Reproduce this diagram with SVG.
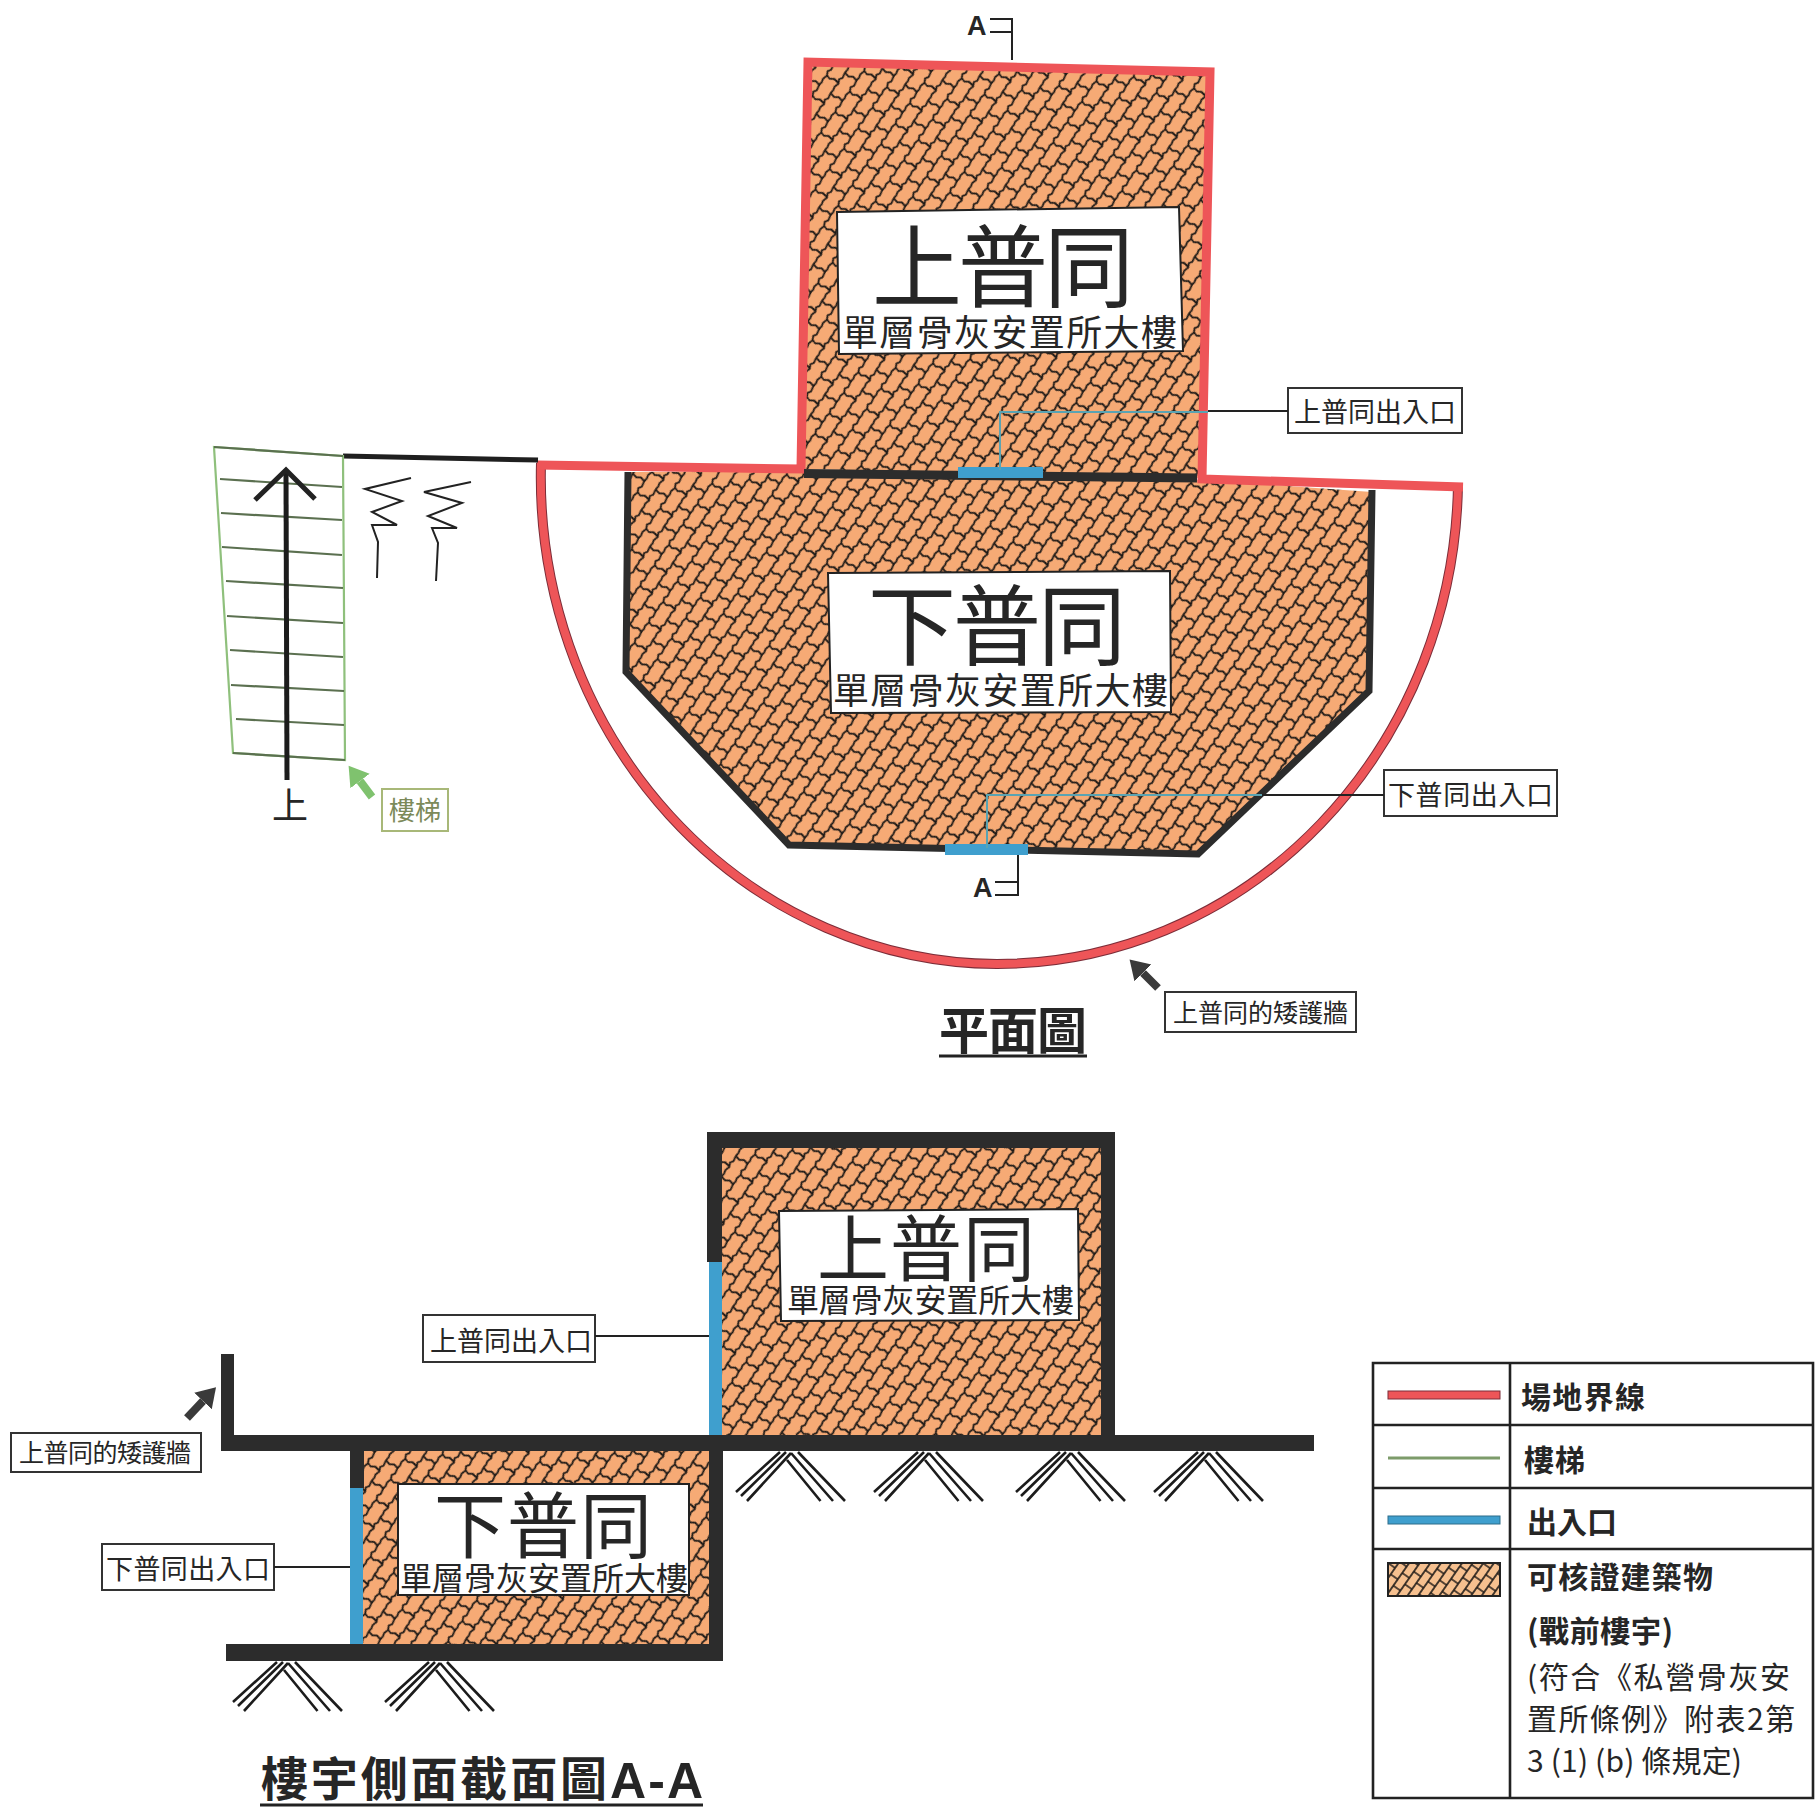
<svg xmlns="http://www.w3.org/2000/svg" xmlns:xlink="http://www.w3.org/1999/xlink" width="1815" height="1809" viewBox="0 0 1815 1809">
<style>
text{font-family:"Noto Sans CJK TC","Noto Sans CJK SC",sans-serif;fill:#262626}
.lat{font-family:"Liberation Sans",sans-serif;font-weight:700}
.b{font-weight:700}
.box{fill:#fff;stroke:#333;stroke-width:2}
.lab{fill:#fff;stroke:#222;stroke-width:2}
.dark{fill:#2c2c2c}
.blue{fill:#3f9fce}
.thin{fill:none;stroke:#222;stroke-width:2}
.teal{fill:none;stroke:#5aa3b2;stroke-width:2}
.red{fill:none;stroke:#ee5558;stroke-width:9;stroke-linejoin:miter}
.wall{fill:none;stroke:#2c2c2c;stroke-width:7;stroke-linejoin:miter}
.rung{stroke:#5b7050;stroke-width:2.2;fill:none}
.stair{stroke:#8fc07c;stroke-width:2.2;fill:none}
.sig{fill:none;stroke:#222;stroke-width:2}
.ch{fill:none;stroke:#1c1c1c;stroke-width:2.6}
.ar{stroke:#3a3a3a;stroke-width:8;fill:none}
.ag{stroke:#7fc26e;stroke-width:8;fill:none}
.grid{stroke:#222;stroke-width:2.6;fill:none}
</style>
<defs>
<pattern id="hatch" width="28" height="25" patternUnits="userSpaceOnUse" patternTransform="translate(5 3) rotate(35)">
<rect x="0" y="0" width="28" height="25" fill="#f6aa75"/>
<path fill="none" stroke="#1d1916" stroke-width="1.8" d="M0 0L1 6L-1 9L1 13L-.5 18L.5 21L0 25M14 0L15 6L13 9L15 13L13.500 18L14.500 21L14 25M28 0L29 6L27 9L29 13L27.500 18L28.500 21L28 25M0 0L5 1.500L9-1L14 0M0 25L5 26.500L9 24L14 25M14 12.500L19 14L23 11.500L28 12.500"/>
</pattern>
<pattern id="hatchS" width="28" height="25" patternUnits="userSpaceOnUse" patternTransform="translate(1388 1563) scale(.62) rotate(35)">
<rect x="0" y="0" width="28" height="25" fill="#f6c08f"/>
<path fill="none" stroke="#1d1916" stroke-width="2.6" d="M0 0V25M14 0V25M28 0V25M0 0H14M0 25H14M14 12.500H28"/>
</pattern>
<marker id="hd" markerUnits="userSpaceOnUse" markerWidth="24" markerHeight="26" refX="0" refY="13" orient="auto"><path d="M0 1L19 13L0 25Z" fill="#3a3a3a"/></marker>
<marker id="hg" markerUnits="userSpaceOnUse" markerWidth="24" markerHeight="26" refX="0" refY="13" orient="auto"><path d="M0 1L19 13L0 25Z" fill="#7fc26e"/></marker>
<g id="chev" class="ch"><path d="M277 1662L233 1702M283 1662L238 1706M288 1663L244 1711M295 1662L342 1711M288 1663L330 1711M284 1670L317.5 1711"/></g>
</defs>
<rect width="1815" height="1809" fill="#fff"/>

<g id="plan-upper-building">
<path d="M808 62L1210 72L1202 478L801 469Z" fill="url(#hatch)"/>
</g>
<g id="plan-lower-building">
<path d="M628 472L626 672L789 845L1198 854L1369 691L1372 492L1202 480L801 471Z" fill="url(#hatch)"/>
<path class="wall" d="M628 472L626 672L789 845L1198 854L1369 691L1372 490"/>
</g>
<g id="plan-boundary">
<path d="M1458 484A461 487 0 0 1 997 964A459 487 0 0 1 541 463" fill="none" stroke="#7c2d38" stroke-width="10"/>
<path d="M1458 484A461 487 0 0 1 997 964A459 487 0 0 1 541 463" fill="none" stroke="#ee5558" stroke-width="8"/>
<path class="red" d="M537 465L801 469L808 62L1210 72L1202 479L1463 487"/>
<path d="M804 473.500L1197 478" stroke="#2c2c2c" stroke-width="9" fill="none"/>
<path d="M343 456L538 460" stroke="#1f1f1f" stroke-width="5" fill="none"/>
</g>
<g id="plan-entrances">
<rect class="blue" x="958" y="467" width="85" height="11"/>
<rect class="blue" x="945" y="844" width="83" height="11"/>
</g>
<g id="plan-upper-label">
<path class="lab" d="M837 212L1179 207L1183 351L839 354Z"/>
<text x="872" y="300" font-size="90" textLength="262">上普同</text>
<text x="842" y="346" font-size="36" textLength="335">單層骨灰安置所大樓</text>
</g>
<g id="plan-lower-label">
<path class="lab" d="M828 573L1170 571L1171 712L831 713Z"/>
<text x="868" y="658" font-size="88" textLength="258">下普同</text>
<text x="833" y="704" font-size="36" textLength="335">單層骨灰安置所大樓</text>
</g>

<g id="stairs">
<path class="stair" d="M214 447L343 456L345 760L233 753Z"/>
<path class="rung" d="M214 447L343 456M220 479L342 487M221 513L342 520M222 547L342 555M226 581L343 588M227 616L343 623M230 650L343 657M231 685L344 691M236 719L344 725M233 753L345 760"/>
<path d="M286 472L287 780" stroke="#1c1c1c" stroke-width="5" fill="none"/>
<path d="M255 500L286 470L315 499" stroke="#222" stroke-width="5" fill="none"/>
<text x="272" y="819" font-size="36">上</text>
</g>
<g id="break-lines">
<path class="sig" d="M411 478L365 489L402 501L372 512L397 525L372 525L378 542L377 578"/>
<path class="sig" d="M471 482L424 492L462 503L428 516L457 528L432 528L438 543L436 581"/>
</g>
<g id="stairs-label">
<rect x="382" y="789" width="66" height="42" fill="#fff" stroke="#a8b878" stroke-width="2"/>
<text x="389" y="820" font-size="26" textLength="52" style="fill:#7c8a5a">樓梯</text>
</g>

<g id="plan-upper-entrance-label">
<rect class="box" x="1288" y="388" width="174" height="45"/>
<text x="1294" y="422" font-size="27" textLength="162">上普同出入口</text>
</g>
<g id="plan-lower-entrance-label">
<rect class="box" x="1384" y="770" width="173" height="46"/>
<text x="1388" y="805" font-size="27" textLength="165">下普同出入口</text>
</g>
<g id="plan-wall-label">
<rect class="box" x="1165" y="992" width="191" height="40"/>
<text x="1173" y="1022" font-size="25" textLength="175">上普同的矮護牆</text>
</g>

<g id="section-upper-building">
<rect x="722" y="1148" width="379" height="287" fill="url(#hatch)"/>
<path class="dark" d="M707 1132H1115V1440H1101V1148H722V1262H707Z"/>
<rect class="blue" x="709" y="1262" width="13" height="173"/>
</g>
<g id="section-upper-label">
<path class="lab" d="M779 1211L1078 1209L1079 1320L781 1321Z"/>
<text x="817" y="1275" font-size="72" textLength="218">上普同</text>
<text x="787" y="1312" font-size="32" textLength="287">單層骨灰安置所大樓</text>
</g>
<g id="section-lower-building">
<rect x="363" y="1451" width="346" height="193" fill="url(#hatch)"/>
<rect class="dark" x="350" y="1451" width="14" height="37"/>
<rect class="blue" x="350" y="1488" width="13" height="156"/>
<rect class="dark" x="709" y="1435" width="14" height="226"/>
<rect class="dark" x="226" y="1644" width="497" height="17"/>
</g>
<g id="section-floor">
<rect class="dark" x="221" y="1435" width="1093" height="16"/>
<rect class="dark" x="221" y="1354" width="13" height="97"/>
</g>
<g id="section-lower-label">
<rect class="lab" x="398" y="1484" width="291" height="111"/>
<text x="434" y="1552" font-size="72" textLength="218">下普同</text>
<text x="400" y="1590" font-size="32" textLength="288">單層骨灰安置所大樓</text>
</g>
<g id="section-footings">
<use href="#chev"/>
<use href="#chev" x="152"/>
<use href="#chev" x="503" y="-210"/>
<use href="#chev" x="641" y="-210"/>
<use href="#chev" x="783" y="-210"/>
<use href="#chev" x="921" y="-210"/>
</g>
<g id="section-upper-entrance-label">
<rect class="box" x="423" y="1315" width="172" height="47"/>
<text x="430" y="1351" font-size="27" textLength="162">上普同出入口</text>
</g>
<g id="section-lower-entrance-label">
<rect class="box" x="102" y="1544" width="172" height="46"/>
<text x="106" y="1579" font-size="27" textLength="164">下普同出入口</text>
</g>
<g id="section-wall-label">
<rect class="box" x="11" y="1433" width="190" height="39"/>
<text x="19" y="1462" font-size="25" textLength="172">上普同的矮護牆</text>
</g>

<g id="connectors">
<path class="teal" d="M1000 470V412H1208"/>
<path class="thin" d="M1208 411H1288"/>
<path class="teal" d="M987 848V795H1262"/>
<path class="thin" d="M1262 795H1384"/>
<path class="sig" d="M990 19H1012V60M990 32H1012"/>
<path class="sig" d="M1018 855V895H995M995 882H1018"/>
<path class="ar" marker-end="url(#hd)" d="M1158 988L1143 973"/>
<path class="ag" marker-end="url(#hg)" d="M372 797L360 781"/>
<path class="ar" marker-end="url(#hd)" d="M187 1418L203 1401"/>
<path class="thin" d="M595 1336H709"/>
<path class="thin" d="M274 1567H350"/>
</g>
<text class="lat" x="967" y="35" font-size="27">A</text>
<text class="lat" x="973" y="897" font-size="27">A</text>

<g id="titles">
<text class="b" x="939" y="1049" font-size="50" textLength="148">平面圖</text>
<path d="M939 1056H1087" stroke="#222" stroke-width="3"/>
<text class="b" x="261" y="1796" font-size="47" textLength="346">樓宇側面截面圖</text>
<text class="lat" x="610" y="1798" font-size="50" textLength="93">A-A</text>
<path d="M260 1805H703" stroke="#222" stroke-width="3"/>
</g>

<g id="legend">
<path class="grid" d="M1373 1363H1813V1798H1373ZM1510 1363V1798M1373 1425H1813M1373 1488H1813M1373 1549H1813"/>
<rect x="1388" y="1391" width="112" height="8" fill="#ee5558" stroke="#7c2d38" stroke-width="1"/>
<path d="M1388 1458H1500" stroke="#7d9b6a" stroke-width="3"/>
<rect x="1388" y="1516" width="112" height="8" fill="#3f9fce" stroke="#2d6d8a" stroke-width="1"/>
<rect x="1388" y="1563" width="112" height="33" fill="url(#hatchS)" stroke="#222" stroke-width="2"/>
<text class="b" x="1521" y="1408" font-size="30" textLength="124">場地界線</text>
<text class="b" x="1524" y="1471" font-size="30" textLength="61">樓梯</text>
<text class="b" x="1527" y="1533" font-size="30" textLength="90">出入口</text>
<text class="b" x="1527" y="1588" font-size="30" textLength="186">可核證建築物</text>
<text class="b" x="1527" y="1642" font-size="30" textLength="146">(戰前樓宇)</text>
<text x="1527" y="1688" font-size="30" textLength="263">(符合《私營骨灰安</text>
<text x="1527" y="1730" font-size="30" textLength="268">置所條例》附表2第</text>
<text x="1527" y="1772" font-size="30" textLength="215">3 (1) (b) 條規定)</text>
</g>
</svg>
